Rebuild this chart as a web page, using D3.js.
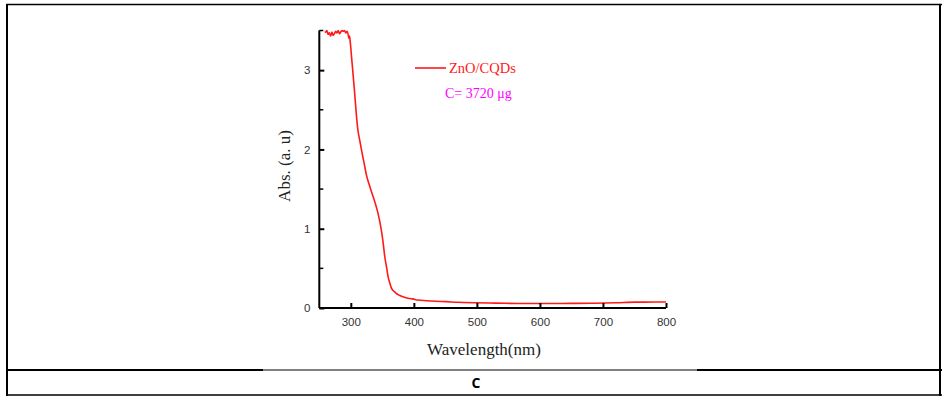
<!DOCTYPE html>
<html><head><meta charset="utf-8">
<script src="https://cdn.jsdelivr.net/npm/d3@7"></script>
<style>
html,body{margin:0;padding:0;background:#fff;}
svg{display:block;}
</style></head>
<body>
<svg id="c" width="942" height="396"></svg>
<script>
// ---- data ----
const wavelength = [259,260,262,264,266,268,270,272,274,276,278,280,282,284,286,288,290,292,294,296,297,298,299,300,301,303,306,309,311,314,317,321,325,329,333,338,343,348,351,354,357,359,362,364,367,370,372,377,385,393,398,406,420,435,451,470,498,530,577,620,650,682,720,751,780,800];
const absorbance = [3.49,3.48,3.50,3.45,3.47,3.43,3.48,3.44,3.46,3.49,3.47,3.50,3.46,3.48,3.50,3.49,3.50,3.47,3.49,3.44,3.40,3.43,3.36,3.28,3.18,3.00,2.72,2.42,2.26,2.12,1.99,1.83,1.67,1.56,1.46,1.34,1.20,1.00,0.84,0.64,0.50,0.40,0.31,0.26,0.22,0.20,0.185,0.16,0.135,0.12,0.115,0.10,0.092,0.085,0.08,0.072,0.066,0.062,0.056,0.057,0.058,0.06,0.066,0.074,0.075,0.076];
const xTicks = [300,400,500,600,700,800];
const yTicks = [0,1,2,3];
const yMinor = [0.5,1.5,2.5,3.5];
const seriesName = "ZnO/CQDs";
const noteText = "C= 3720 \u03bcg";
const xTitle = "Wavelength(nm)";
const yTitle = "Abs. (a. u)";
const caption = "C";

const svg = d3.select("#c");

// table frame
const frame = svg.append("g").attr("stroke","#000").attr("fill","none");
frame.append("line").attr("x1",6).attr("x2",942).attr("y1",4.5).attr("y2",4.5).attr("stroke-width",1.5);
frame.append("line").attr("x1",7).attr("x2",7).attr("y1",4).attr("y2",396).attr("stroke-width",2);
frame.append("line").attr("x1",940).attr("x2",940).attr("y1",4).attr("y2",396).attr("stroke-width",2);
frame.append("line").attr("x1",6).attr("x2",263).attr("y1",370).attr("y2",370).attr("stroke-width",2);
frame.append("line").attr("x1",263).attr("x2",697).attr("y1",370).attr("y2",370).attr("stroke-width",1);
frame.append("line").attr("x1",697).attr("x2",942).attr("y1",370).attr("y2",370).attr("stroke-width",2);
frame.append("line").attr("x1",6).attr("x2",942).attr("y1",395).attr("y2",395).attr("stroke-width",1.5);

svg.append("text").attr("x",476).attr("y",388).attr("text-anchor","middle")
  .attr("font-family","'Open Sans', 'DejaVu Sans', sans-serif").attr("font-weight","bold")
  .attr("font-size",14).text(caption);

// scales
const x = d3.scaleLinear().domain([250,800]).range([319.3,666]);
const y = d3.scaleLinear().domain([0,3.5]).range([308,30.5]);

// clip
svg.append("clipPath").attr("id","clip").append("rect")
  .attr("x",319).attr("y",28).attr("width",350).attr("height",282);

// curve
const line = d3.line().x((d,i)=>x(wavelength[i])).y(d=>y(d)).curve(d3.curveMonotoneX);
svg.append("path").datum(absorbance).attr("clip-path","url(#clip)")
  .attr("d",line).attr("fill","none").attr("stroke","#ff1a1a").attr("stroke-width",1.6);

// axes
const tickFont = "'Liberation Sans', Arial, sans-serif";
const xAxis = d3.axisBottom(x).tickValues(xTicks).tickSize(-5).tickPadding(10).tickFormat(d3.format("d"));
const gx = svg.append("g").attr("transform","translate(0,308)").call(xAxis);
const yAxis = d3.axisLeft(y).tickValues(yTicks).tickSize(-5).tickPadding(9).tickFormat(d3.format("d"));
const gy = svg.append("g").attr("transform","translate(319.3,0)").call(yAxis);
// minor y ticks
gy.selectAll("line.minor").data(yMinor).enter().append("line").attr("class","minor")
  .attr("x1",0).attr("x2",4).attr("y1",d=>y(d)).attr("y2",d=>y(d)).attr("stroke","#000").attr("stroke-width",1.5);

[gx,gy].forEach(g=>{
  g.select(".domain").attr("stroke","#000").attr("stroke-width",2);
  g.selectAll(".tick line").attr("stroke","#000").attr("stroke-width",2);
  g.selectAll(".tick text").attr("font-family",tickFont).attr("font-size",11.5).attr("fill","#333");
});
gx.select(".domain").attr("d","M319.3,0H666");
gy.select(".domain").attr("d","M0,308V30.5");

// titles
svg.append("text").attr("x",484).attr("y",355).attr("text-anchor","middle")
  .attr("font-family","'Liberation Serif', 'Times New Roman', serif").attr("font-size",17).attr("fill","#222")
  .text(xTitle);
svg.append("text").attr("transform","translate(290,166) rotate(-90)").attr("text-anchor","middle")
  .attr("font-family","'Liberation Serif', 'Times New Roman', serif").attr("font-size",17).attr("fill","#222")
  .text(yTitle);

// legend
svg.append("line").attr("x1",415).attr("x2",446).attr("y1",68).attr("y2",68).attr("stroke","#ff1a1a").attr("stroke-width",1.6);
svg.append("text").attr("x",449).attr("y",73).attr("font-family","'Liberation Serif', 'Times New Roman', serif")
  .attr("font-size",14.5).attr("fill","#ff1a1a").text(seriesName);
svg.append("text").attr("x",445).attr("y",98).attr("font-family","'Liberation Serif', 'Times New Roman', serif")
  .attr("font-size",14).attr("fill","#ff00ff").text(noteText);
</script>
</body></html>
